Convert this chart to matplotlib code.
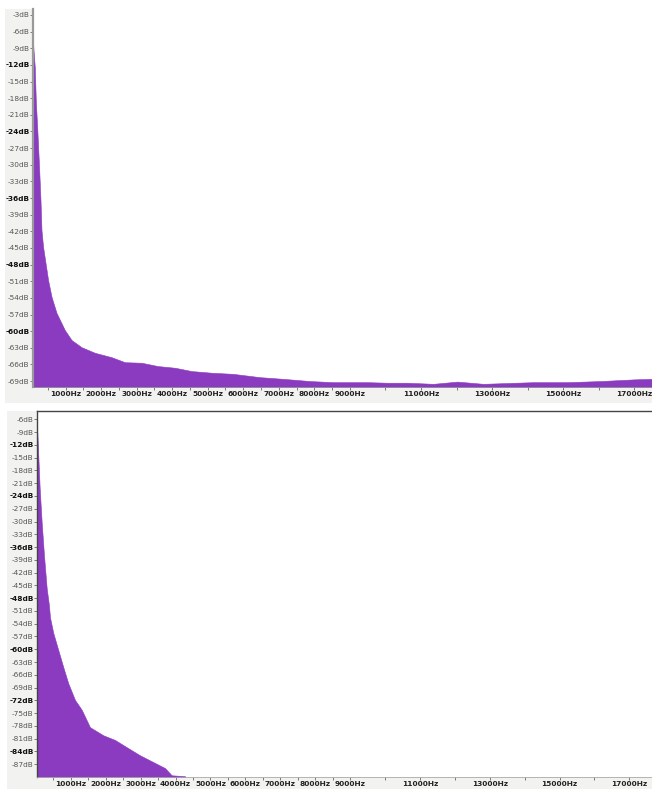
import matplotlib
matplotlib.use("Agg")
import matplotlib.pyplot as plt
from matplotlib.patches import Rectangle
import numpy as np

# ---- data ----
top_freq_hz = [79, 99, 135, 163, 211, 256, 296, 324, 369, 437, 510, 606, 746, 980,
               1169, 1451, 1825, 2296, 2670, 3141, 3600, 4079, 4549, 5113, 5713,
               6473, 7121, 7882, 8530, 9093, 9487, 10050, 10614, 11346, 12022,
               12755, 14163, 15121, 16051, 16980, 17459, 17600]
top_db = [-6.97, -9.3, -12.4, -18.3, -24.3, -30.4, -36.4, -41.8, -44.8, -47.7, -50.8,
          -53.8, -56.7, -59.8, -61.6, -62.9, -63.9, -64.7, -65.6, -65.7, -66.3, -66.6,
          -67.2, -67.5, -67.7, -68.3, -68.6, -69.0, -69.2, -69.2, -69.2, -69.3, -69.3,
          -69.5, -69.1, -69.5, -69.2, -69.2, -69.0, -68.7, -68.6, -68.6]

bottom_freq_hz = [37, 66, 106, 163, 229, 307, 372, 401, 496, 639, 782, 925, 1117, 1309,
                  1547, 1928, 2264, 2599, 2980, 3361, 3696, 3888, 4269, 4290]
bottom_db = [-9.0, -14.5, -22.2, -30.2, -37.9, -45.7, -49.7, -52.5, -56.2, -60.2, -64.2,
             -68.0, -71.9, -74.2, -78.3, -80.2, -81.3, -83.0, -84.9, -86.5, -87.9, -89.6,
             -89.8, -95.0]

top_db_ticks = list(range(-3, -70, -3))
bottom_db_ticks = list(range(-6, -88, -3))
freq_labels_hz = [1000, 2000, 3000, 4000, 5000, 6000, 7000, 8000, 9000,
                  11000, 13000, 15000, 17000]

FILL = "#8a3bbf"
BAND = "#f2f2f0"
W, H = 652, 789

fig = plt.figure(figsize=(W / 100, H / 100), dpi=100)
fig.patch.set_facecolor("white")


def frac_rect(x0, y0, x1, y1):
    # pixel coords (top-left origin) -> figure fraction rect
    return [x0 / W, 1 - y1 / H, (x1 - x0) / W, (y1 - y0) / H]


def add_band(x0, y0, x1, y1):
    r = frac_rect(x0, y0, x1, y1)
    fig.patches.append(Rectangle((r[0], r[1]), r[2], r[3], transform=fig.transFigure,
                                 facecolor=BAND, edgecolor="none", zorder=-5))


# background rulers
add_band(5, 9, 33, 387)
add_band(5, 387, 652, 403)
add_band(7, 411, 37, 777)
add_band(7, 777, 652, 789)


def style_axes(ax, db_ticks, spine_color, spine_top):
    ax.set_facecolor("white")
    ax.set_yticks(db_ticks)
    ax.set_yticklabels([f"{d}dB" for d in db_ticks])
    for lab, d in zip(ax.get_yticklabels(), db_ticks):
        if d % 12 == 0:
            lab.set_fontweight("bold")
            lab.set_color("#111111")
        else:
            lab.set_color("#555555")
    ax.tick_params(axis="y", labelsize=5.3, length=2.2, width=0.6, pad=0.3,
                   color="#666666")
    ax.set_xticks(freq_labels_hz)
    ax.set_xticklabels([f"{f}Hz" for f in freq_labels_hz], fontweight="bold")
    minor = [f for f in range(500, 9001, 500)] + [10000, 12000, 14000, 16000]
    ax.set_xticks(minor, minor=True)
    ax.tick_params(axis="x", which="major", labelsize=5.3, length=2.2, width=0.6,
                   pad=1.0, color="#666666", labelcolor="#222222")
    ax.tick_params(axis="x", which="minor", length=2.2, width=0.6, color="#666666")
    ax.spines["right"].set_visible(False)
    ax.spines["top"].set_visible(spine_top)
    for s in ["left", "bottom", "top"]:
        ax.spines[s].set_color(spine_color)


# ---- top panel ----
ax1 = fig.add_axes(frac_rect(33, 9, 652, 387))
ax1.fill_between(top_freq_hz, top_db, -100, color=FILL, linewidth=0.4, edgecolor=FILL)
ax1.set_xlim(85, 17500)
ax1.set_ylim(-70.07, -1.92)
style_axes(ax1, top_db_ticks, "#999999", False)
ax1.spines["left"].set_linewidth(1.6)
ax1.spines["bottom"].set_linewidth(0.6)

# ---- bottom panel ----
ax2 = fig.add_axes(frac_rect(37, 411, 652, 777))
ax2.fill_between(bottom_freq_hz, bottom_db, -100, color=FILL, linewidth=0.4, edgecolor=FILL)
ax2.set_xlim(29, 17650)
ax2.set_ylim(-90.0, -4.05)
style_axes(ax2, bottom_db_ticks, "#444444", True)
ax2.spines["left"].set_linewidth(1.0)
ax2.spines["top"].set_linewidth(1.0)
ax2.spines["bottom"].set_color("#aaaaaa")
ax2.spines["bottom"].set_linewidth(0.6)

fig.savefig("out.png", dpi=100, facecolor="white")
